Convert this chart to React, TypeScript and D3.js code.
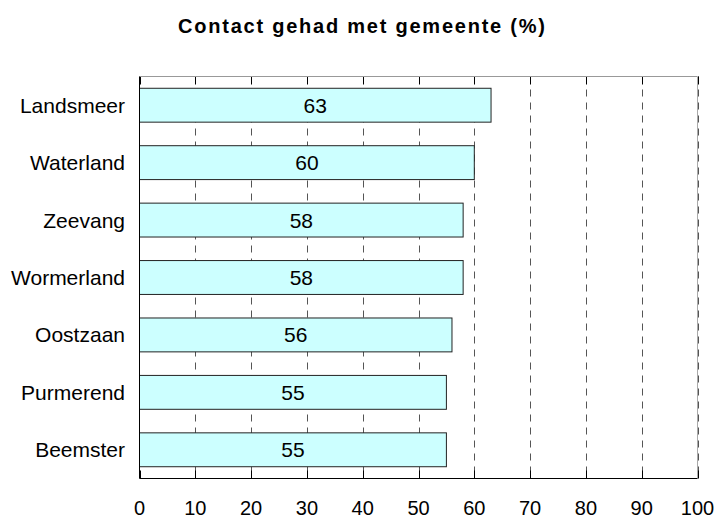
// @ts-nocheck
import { useEffect, useRef } from 'react';
import * as d3 from 'd3';

const categories = ['Landsmeer', 'Waterland', 'Zeevang', 'Wormerland', 'Oostzaan', 'Purmerend', 'Beemster'];
const values = [63, 60, 58, 58, 56, 55, 55];
const xTicks = [0, 10, 20, 30, 40, 50, 60, 70, 80, 90, 100];
const title = 'Contact gehad met gemeente (%)';

const App = () => {
  const svgRef = useRef<SVGSVGElement>(null);
  const width = 719;
  const height = 520;

  useEffect(() => {
    if (!svgRef.current) return;
    const svg = d3.select(svgRef.current);
    svg.selectAll('*').remove();

    const left = 139.5;
    const right = 697.5;
    const top = 76.5;
    const bottom = 478.5;
    const font = 'Arial, "Liberation Sans", sans-serif';

    const x = d3.scaleLinear().domain([0, 100]).range([left, right]);
    const y = d3.scaleBand().domain(categories).range([top, bottom]).paddingInner(0.41).paddingOuter(0.205);

    // Title
    svg
      .append('text')
      .attr('x', 178)
      .attr('y', 33)
      .attr('font-family', font)
      .attr('font-size', '20px')
      .attr('font-weight', 'bold')
      .attr('fill', '#000')
      .attr('textLength', 367)
      .attr('lengthAdjust', 'spacing')
      .text(title);

    // Dashed gridlines
    const grid = svg.append('g');
    xTicks.filter((t) => t > 0).forEach((t) => {
      grid
        .append('line')
        .attr('x1', Math.round(x(t)) + 0.5)
        .attr('x2', Math.round(x(t)) + 0.5)
        .attr('y1', top)
        .attr('y2', bottom)
        .attr('stroke', '#555')
        .attr('stroke-width', 1)
        .attr('stroke-dasharray', '7,6');
    });

    // Top ticks (inner)
    xTicks.forEach((t) => {
      grid
        .append('line')
        .attr('x1', Math.round(x(t)) + 0.5)
        .attr('x2', Math.round(x(t)) + 0.5)
        .attr('y1', top)
        .attr('y2', top + 8)
        .attr('stroke', '#000');
    });

    // Frame: top and right gray
    svg.append('line').attr('x1', left).attr('x2', right).attr('y1', top).attr('y2', top).attr('stroke', '#999');
    svg.append('line').attr('x1', right).attr('x2', right).attr('y1', top).attr('y2', bottom).attr('stroke', '#aaa');

    // Bars
    const bars = svg.append('g');
    categories.forEach((c, i) => {
      bars
        .append('rect')
        .attr('x', x(0))
        .attr('y', y(c))
        .attr('width', x(values[i]) - x(0))
        .attr('height', y.bandwidth())
        .attr('fill', '#CCFFFF')
        .attr('stroke', '#222')
        .attr('stroke-width', 1);

      bars
        .append('text')
        .attr('x', (x(0) + x(values[i])) / 2)
        .attr('y', y(c) + y.bandwidth() / 2)
        .attr('text-anchor', 'middle')
        .attr('dominant-baseline', 'central')
        .attr('font-family', font)
        .attr('font-size', '21px')
        .attr('fill', '#000')
        .text(values[i]);

      svg
        .append('text')
        .attr('x', 125)
        .attr('y', y(c) + y.bandwidth() / 2)
        .attr('text-anchor', 'end')
        .attr('dominant-baseline', 'central')
        .attr('font-family', font)
        .attr('font-size', '21px')
        .attr('fill', '#000')
        .text(c);
    });

    // Bottom ticks (inner)
    xTicks.forEach((t) => {
      svg
        .append('line')
        .attr('x1', Math.round(x(t)) + 0.5)
        .attr('x2', Math.round(x(t)) + 0.5)
        .attr('y1', bottom - 8)
        .attr('y2', bottom)
        .attr('stroke', '#000');
    });

    // Left and bottom axes (black)
    svg.append('line').attr('x1', left).attr('x2', left).attr('y1', top).attr('y2', bottom).attr('stroke', '#000');
    svg.append('line').attr('x1', left).attr('x2', right).attr('y1', bottom).attr('y2', bottom).attr('stroke', '#000');

    // X tick labels
    xTicks.forEach((t) => {
      svg
        .append('text')
        .attr('x', x(t))
        .attr('y', 515)
        .attr('text-anchor', 'middle')
        .attr('font-family', font)
        .attr('font-size', '20px')
        .attr('fill', '#000')
        .text(t);
    });
  }, []);

  return (
    <div style={{ position: 'absolute', left: 0, top: 0, background: '#fff' }}>
      <svg ref={svgRef} width={width} height={height} style={{ display: 'block' }} />
    </div>
  );
};

export default App;
